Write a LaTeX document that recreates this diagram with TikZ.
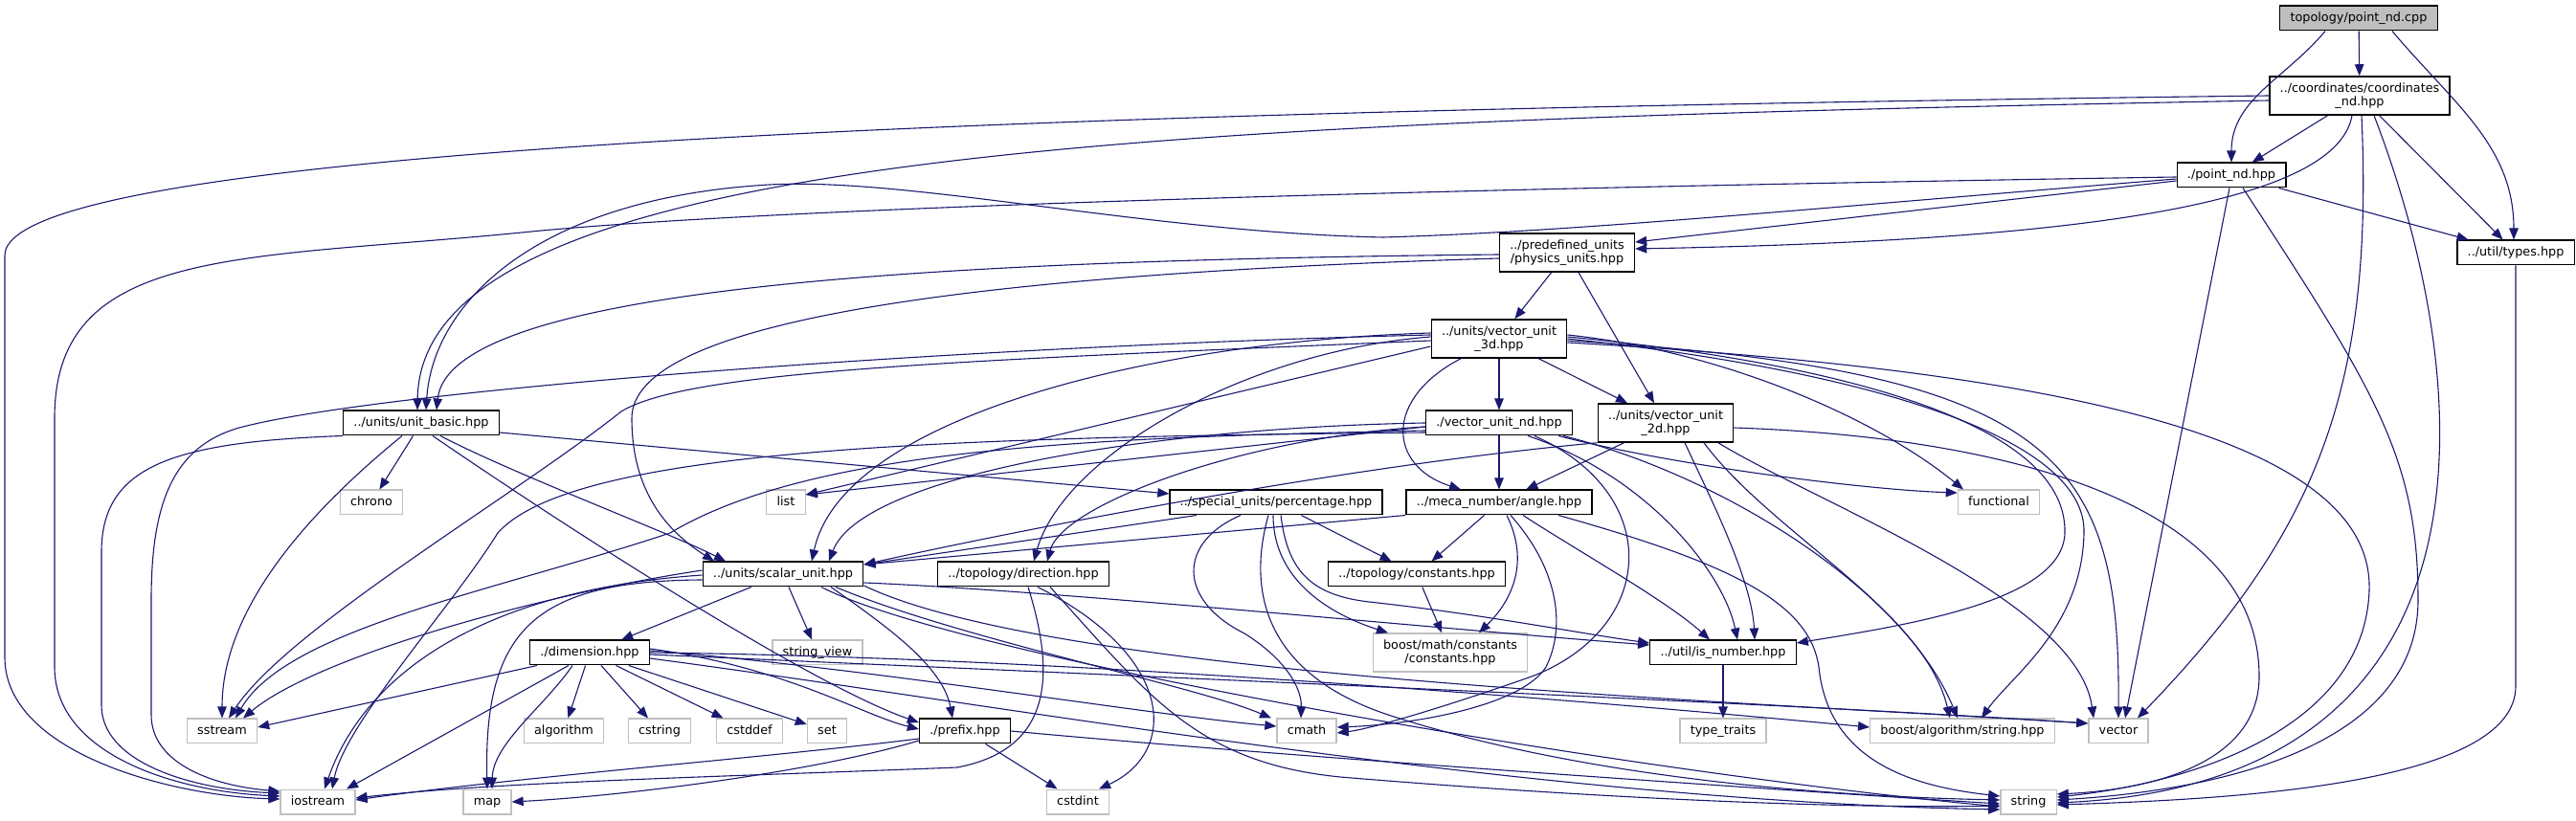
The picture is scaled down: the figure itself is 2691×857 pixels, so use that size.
\documentclass[tikz,border=0pt]{standalone}
\usepackage{fontspec}
\newfontfamily\dgfont{DejaVu Sans}
\usepackage{tikz}
\usetikzlibrary{arrows.meta}
\definecolor{DGedge}{HTML}{191970}
\definecolor{DGgrey}{HTML}{BFBFBF}
\definecolor{DGroot}{HTML}{BFBFBF}
\tikzset{
  boxbase/.style={draw=black, fill=white, line width=1.3pt, inner xsep=10.8pt, inner ysep=6.5pt, align=center, font=\dgfont\fontsize{12.8}{14.5}\selectfont},
  hdrbox/.style={boxbase, text height=9.7pt, text depth=3pt},
  pairbox/.style={boxbase},
  sysbox/.style={hdrbox, draw=DGgrey},
  rootbox/.style={hdrbox, fill=DGroot},
  incarr/.style={-{Triangle[length=12pt,width=9.5pt]}, draw=DGedge, fill=none, line width=1.1pt}
}

\begin{document}
\begin{tikzpicture}[x=1pt,y=1pt]
\useasboundingbox (0,0) rectangle (2691,857);
% project headers
\node[rootbox] (cpp) at (2464,838) {topology/point\_nd.cpp};
\node[pairbox] (coord) at (2465,757) {../coordinates/coordinates\\\_nd.hpp};
\node[hdrbox] (pnd) at (2331,674) {./point\_nd.hpp};
\node[hdrbox] (types) at (2628,593) {../util/types.hpp};
\node[pairbox] (phys) at (1637,593) {../predefined\_units\\/physics\_units.hpp};
\node[pairbox] (v3d) at (1566,503) {../units/vector\_unit\\\_3d.hpp};
\node[hdrbox] (vnd) at (1566,415) {./vector\_unit\_nd.hpp};
\node[pairbox] (v2d) at (1740,415) {../units/vector\_unit\\\_2d.hpp};
\node[hdrbox] (ubasic) at (440,415) {../units/unit\_basic.hpp};
\node[hdrbox] (perc) at (1333,332) {../special\_units/percentage.hpp};
\node[hdrbox] (angle) at (1566,332) {../meca\_number/angle.hpp};
\node[hdrbox] (scalar) at (818,257) {../units/scalar\_unit.hpp};
\node[hdrbox] (dir) at (1069,257) {../topology/direction.hpp};
\node[hdrbox] (tconst) at (1480,257) {../topology/constants.hpp};
\node[hdrbox] (dim) at (616,175) {./dimension.hpp};
\node[hdrbox] (isnum) at (1800,175) {../util/is\_number.hpp};
\node[hdrbox] (prefix) at (1008,93) {./prefix.hpp};
% system headers
\node[sysbox] (chrono) at (388,332) {chrono};
\node[sysbox] (list) at (821,332) {list};
\node[sysbox] (functional) at (2088,332) {functional};
\node[sysbox] (sview) at (854,175) {string\_view};
\node[sysbox, text height={}, text depth={}, minimum height=40pt] (bconst) at (1515,175) {boost/math/constants\\/constants.hpp};
\node[sysbox] (sstream) at (232,93) {sstream};
\node[sysbox] (algorithm) at (589,93) {algorithm};
\node[sysbox] (cstring) at (689,93) {cstring};
\node[sysbox] (cstddef) at (783,93) {cstddef};
\node[sysbox] (set) at (864,93) {set};
\node[sysbox] (cmath) at (1365,93) {cmath};
\node[sysbox] (typetraits) at (1800,93) {type\_traits};
\node[sysbox] (balg) at (2050,93) {boost/algorithm/string.hpp};
\node[sysbox] (vector) at (2213,93) {vector};
\node[sysbox] (iostream) at (332,19) {iostream};
\node[sysbox] (map) at (509,19) {map};
\node[sysbox] (cstdint) at (1126,19) {cstdint};
\node[sysbox] (string) at (2119,19) {string};

% point_nd.cpp
\draw[incarr] (cpp) -- (coord);
\draw[incarr] ([xshift=-35]cpp.south) to[out=-130,in=90] (pnd.north);
\draw[incarr] ([xshift=35]cpp.south) to[out=-50,in=90] ([xshift=-2]types.north);
% coordinates_nd.hpp
\draw[incarr] (coord) -- (pnd);
\draw[incarr] (coord) -- (types);
\draw[incarr] ([xshift=-8]coord.south) .. controls (2440,640) and (2150,605) .. ([yshift=4]phys.east);
\draw[incarr] ([yshift=-5]coord.west) .. controls (1200,730) and (440,700) .. ([xshift=-4]ubasic.north);
\draw[incarr] (coord.west) .. controls (1000,740) and (5,700) .. (5,590) -- (5,170) .. controls (5,70) and (180,25) .. ([yshift=3]iostream.west);
\draw[incarr] ([xshift=2]coord.south) .. controls (2480,450) and (2420,300) .. ([xshift=20]vector.north);
\draw[incarr] ([xshift=15]coord.south) .. controls (2590,450) and (2620,40) .. ([yshift=-1]string.east);
% point_nd.hpp
\draw[incarr] (pnd) -- (types);
\draw[incarr] ([xshift=-2]pnd.south) -- ([xshift=7]vector.north);
\draw[incarr] ([xshift=12]pnd.south) .. controls (2480,450) and (2526,380) .. (2526,230) .. controls (2526,70) and (2300,30) .. ([yshift=2]string.east);
\draw[incarr] ([yshift=-6]pnd.west) -- ([yshift=11]phys.east);
\draw[incarr] ([yshift=-4]pnd.west) .. controls (1900,640) and (1650,615) .. (1445,609) .. controls (1200,614) and (950,672) .. (804,664) .. controls (560,650) and (452,540) .. ([xshift=5]ubasic.north);
\draw[incarr] ([yshift=-2]pnd.west) .. controls (1500,660) and (800,640) .. (545,614) .. controls (250,585) and (57,600) .. (57,420) -- (57,160) .. controls (57,70) and (180,30) .. ([yshift=6]iostream.west);
% physics_units.hpp
\draw[incarr] (phys) -- (v3d);
\draw[incarr] (phys) -- ([xshift=-12]v2d.north);
\draw[incarr] ([yshift=-2]phys.west) .. controls (1000,585) and (470,560) .. ([xshift=16]ubasic.north);
\draw[incarr] ([yshift=-6]phys.west) .. controls (1000,570) and (660,520) .. (660,420) .. controls (660,340) and (700,300) .. ([xshift=-72]scalar.north);
% unit_basic.hpp
\draw[incarr] (ubasic) -- (chrono);
\draw[incarr] ([xshift=-20]ubasic.south) .. controls (320,320) and (232,220) .. (sstream.north);
\draw[incarr] (ubasic.south west) .. controls (180,395) and (106,370) .. (106,280) -- (106,120) .. controls (106,60) and (200,32) .. ([yshift=9]iostream.west);
\draw[incarr] ([xshift=20]ubasic.south) .. controls (540,360) and (700,300) .. ([xshift=-60]scalar.north);
\draw[incarr] ([xshift=12]ubasic.south) .. controls (600,300) and (850,140) .. ([yshift=9]prefix.west);
\draw[incarr] ([yshift=-10]ubasic.east) -- ([yshift=9]perc.west);
% vector_unit_3d.hpp
\draw[incarr] (v3d) -- (vnd);
\draw[incarr] (v3d) -- ([xshift=-40]v2d.north);
\draw[incarr] ([xshift=-40]v3d.south) .. controls (1445,440) and (1450,370) .. ([xshift=-40]angle.north);
\draw[incarr] ([yshift=6]v3d.west) .. controls (1200,500) and (880,420) .. ([xshift=30]scalar.north);
\draw[incarr] ([yshift=2]v3d.west) .. controls (1300,490) and (1110,380) .. ([xshift=11]dir.north);
\draw[incarr] ([yshift=-8]v3d.west) -- ([yshift=8]list.east);
\draw[incarr] ([yshift=-2]v3d.west) .. controls (1000,480) and (720,470) .. (649,427) .. controls (540,340) and (300,200) .. ([xshift=7]sstream.north);
\draw[incarr] ([yshift=4]v3d.west) .. controls (1000,495) and (400,450) .. (250,410) .. controls (180,390) and (158,330) .. (158,230) -- (158,110) .. controls (158,60) and (220,36) .. ([yshift=11]iostream.west);
\draw[incarr] ([yshift=4]v3d.east) .. controls (1800,490) and (1960,420) .. ([xshift=-37]functional.north);
\draw[incarr] ([yshift=2]v3d.east) .. controls (1900,480) and (2160,420) .. (2157,300) .. controls (2155,230) and (2000,205) .. ([yshift=10]isnum.east);
\draw[incarr] (v3d.east) .. controls (1950,470) and (2180,400) .. (2177,300) .. controls (2175,200) and (2100,150) .. ([xshift=20]balg.north);
\draw[incarr] ([yshift=-2]v3d.east) .. controls (2150,470) and (2215,380) .. (vector.north);
\draw[incarr] ([yshift=-4]v3d.east) .. controls (2150,470) and (2480,400) .. (2475,240) .. controls (2470,100) and (2300,40) .. ([yshift=5]string.east);
% vector_unit_nd.hpp
\draw[incarr] (vnd) -- (angle);
\draw[incarr] ([yshift=-4]vnd.west) -- ([yshift=8]list.east);
\draw[incarr] (vnd.west) .. controls (1200,410) and (900,360) .. ([xshift=48]scalar.north);
\draw[incarr] ([yshift=-4]vnd.west) .. controls (1300,400) and (1110,330) .. ([xshift=25]dir.north);
\draw[incarr] ([yshift=-8]vnd.west) .. controls (1150,400) and (850,390) .. (700,300) .. controls (520,240) and (300,200) .. ([xshift=14]sstream.north);
\draw[incarr] ([yshift=-10]vnd.west) .. controls (1000,400) and (600,390) .. (520,300) .. controls (470,220) and (360,100) .. ([xshift=15]iostream.north);
\draw[incarr] ([xshift=-15]vnd.south east) .. controls (1750,370) and (1950,345) .. ([yshift=10]functional.west);
\draw[incarr] ([xshift=30]vnd.south) .. controls (1720,360) and (1800,260) .. ([xshift=15]isnum.north);
\draw[incarr] ([xshift=37]vnd.south) .. controls (1740,340) and (1730,200) .. (1600,150) .. controls (1500,115) and (1430,95) .. ([yshift=-2]cmath.east);
\draw[incarr] ([xshift=-10]vnd.south east) .. controls (1800,360) and (1990,240) .. ([xshift=-5]balg.north);
% vector_unit_2d.hpp
\draw[incarr] (v2d) -- (angle);
\draw[incarr] (v2d.south west) .. controls (1400,370) and (1050,300) .. ([yshift=10]scalar.east);
\draw[incarr] ([xshift=20]v2d.south) .. controls (1790,330) and (1830,250) .. ([xshift=33]isnum.north);
\draw[incarr] ([xshift=40]v2d.south) .. controls (1850,300) and (2010,220) .. ([xshift=-13]balg.north);
\draw[incarr] ([xshift=55]v2d.south) .. controls (1900,330) and (2170,230) .. ([xshift=-26]vector.north);
\draw[incarr] ([yshift=-5]v2d.east) .. controls (2100,400) and (2360,330) .. (2360,150) .. controls (2360,60) and (2250,32) .. ([yshift=8]string.east);
% scalar_unit.hpp
\draw[incarr] (scalar) -- (dim);
\draw[incarr] (scalar) -- (sview);
\draw[incarr] ([yshift=4]scalar.west) .. controls (560,235) and (330,170) .. ([xshift=22]sstream.north);
\draw[incarr] ([yshift=-1]scalar.west) .. controls (500,240) and (380,150) .. ([xshift=7]iostream.north);
\draw[incarr] ([yshift=-6]scalar.west) .. controls (560,250) and (505,200) .. (map.north);
\draw[incarr] ([xshift=50]scalar.south) .. controls (930,200) and (985,160) .. ([xshift=-13]prefix.north);
\draw[incarr] ([xshift=55]scalar.south) .. controls (1000,190) and (1250,140) .. ([xshift=-37]cmath.north);
\draw[incarr] ([yshift=-9]scalar.east) .. controls (1100,240) and (1500,200) .. ([yshift=8]isnum.west);
\draw[incarr] ([yshift=-12]scalar.east) .. controls (1100,150) and (1800,125) .. ([yshift=8]vector.west);
\draw[incarr] ([xshift=40]scalar.south) .. controls (1000,170) and (1700,50) .. ([yshift=-5]string.west);
% dimension.hpp
\draw[incarr] ([xshift=-55]dim.south) -- ([yshift=4]sstream.east);
\draw[incarr] ([xshift=-22]dim.south) -- ([xshift=30]iostream.north);
\draw[incarr] ([xshift=-18]dim.south) .. controls (570,120) and (515,80) .. ([xshift=5]map.north);
\draw[incarr] (dim) -- (algorithm);
\draw[incarr] (dim) -- (cstring);
\draw[incarr] (dim) -- (cstddef);
\draw[incarr] (dim) -- (set);
\draw[incarr] ([yshift=4]dim.east) .. controls (820,160) and (900,110) .. ([yshift=2]prefix.west);
\draw[incarr] ([yshift=2]dim.east) .. controls (900,160) and (1200,110) .. ([yshift=5]cmath.west);
\draw[incarr] (dim.east) .. controls (1100,170) and (1600,130) .. ([yshift=4]balg.west);
\draw[incarr] ([yshift=-2]dim.east) .. controls (1200,150) and (1900,120) .. ([yshift=8]vector.west);
\draw[incarr] ([yshift=-6]dim.east) .. controls (1050,120) and (1600,20) .. ([yshift=-8]string.west);
% prefix.hpp
\draw[incarr] ([yshift=-8]prefix.west) .. controls (800,65) and (540,45) .. ([yshift=2]iostream.east);
\draw[incarr] ([yshift=-10]prefix.west) .. controls (850,50) and (650,25) .. (map.east);
\draw[incarr] (prefix) -- (cstdint);
\draw[incarr] (prefix.east) .. controls (1300,70) and (1800,35) .. ([yshift=-2]string.west);
% direction.hpp
\draw[incarr] ([xshift=5]dir.south) .. controls (1100,160) and (1105,75) .. (1000,55) .. controls (750,45) and (520,40) .. ([yshift=4]iostream.east);
\draw[incarr] ([xshift=15]dir.south) .. controls (1230,170) and (1230,70) .. ([xshift=22]cstdint.north);
\draw[incarr] ([xshift=28]dir.south) .. controls (1200,130) and (1250,60) .. (1400,45) .. controls (1700,20) and (1950,12) .. ([yshift=-4]string.west);
% percentage.hpp
\draw[incarr] ([xshift=-83]perc.south) -- ([yshift=10]scalar.east);
\draw[incarr] (perc) -- (tconst);
\draw[incarr] ([xshift=-37]perc.south) .. controls (1230,290) and (1230,230) .. (1300,195) .. controls (1340,170) and (1360,140) .. ([xshift=-6]cmath.north);
\draw[incarr] ([xshift=-8]perc.south) .. controls (1300,230) and (1330,150) .. (1450,110) .. controls (1650,45) and (1900,25) .. ([yshift=2]string.west);
\draw[incarr] ([xshift=-3]perc.south) .. controls (1330,250) and (1390,215) .. ([xshift=-65]bconst.north);
\draw[incarr] ([xshift=5]perc.south) .. controls (1345,260) and (1370,235) .. (1430,228) .. controls (1550,215) and (1650,195) .. ([yshift=10]isnum.west);
% angle.hpp
\draw[incarr] (angle.south west) -- ([yshift=10]scalar.east);
\draw[incarr] (angle) -- (tconst);
\draw[incarr] ([xshift=8]angle.south) .. controls (1598,270) and (1580,230) .. ([xshift=30]bconst.north);
\draw[incarr] ([xshift=12]angle.south) .. controls (1630,260) and (1635,200) .. (1615,160) .. controls (1590,120) and (1480,100) .. ([yshift=4]cmath.east);
\draw[incarr] ([xshift=25]angle.south) .. controls (1650,280) and (1740,230) .. ([xshift=-14]isnum.north);
\draw[incarr] ([xshift=62]angle.south) .. controls (1800,270) and (1890,230) .. (1900,160) .. controls (1910,60) and (2000,35) .. ([yshift=6]string.west);
% leaves of the project headers
\draw[incarr] (tconst) -- (bconst);
\draw[incarr] (isnum) -- (typetraits);
\draw[incarr] (types.south) -- (2628,140) .. controls (2628,40) and (2350,22) .. ([yshift=-3]string.east);
\end{tikzpicture}
\end{document}
